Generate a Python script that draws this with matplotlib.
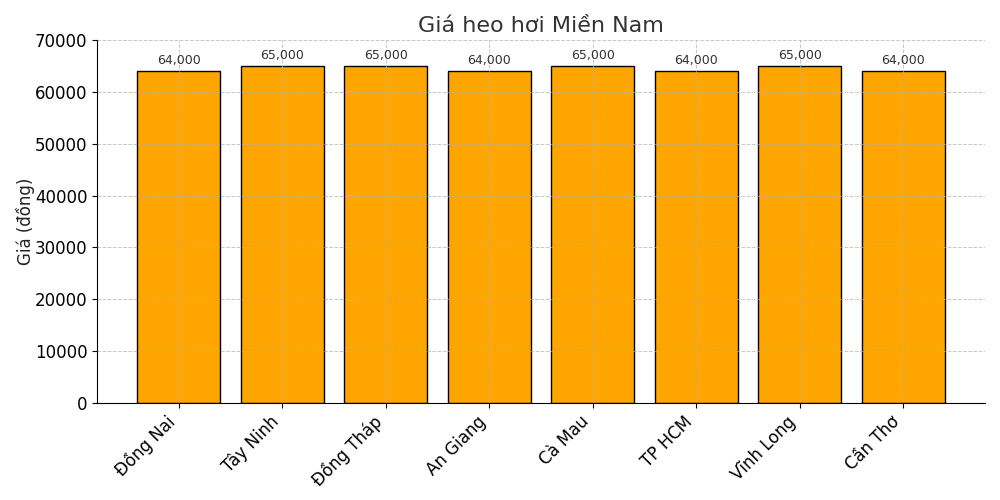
import matplotlib
matplotlib.use("Agg")
import matplotlib.pyplot as plt

provinces = ["Đồng Nai", "Tây Ninh", "Đồng Tháp", "An Giang",
             "Cà Mau", "TP HCM", "Vĩnh Long", "Cần Thơ"]
prices = [64000, 65000, 65000, 64000, 65000, 64000, 65000, 64000]

fig, ax = plt.subplots(figsize=(10, 5), dpi=100)
bars = ax.bar(provinces, prices, color="orange", edgecolor="black", width=0.8)

for b, p in zip(bars, prices):
    ax.annotate(f"{p:,}", (b.get_x() + b.get_width() / 2, p),
                xytext=(0, 3), textcoords="offset points",
                ha="center", va="bottom", fontsize=9, color="#333333")

ax.set_title("Giá heo hơi Miền Nam", fontsize=16, color="#333333")
ax.set_ylabel("Giá (đồng)", fontsize=12, color="#222222", labelpad=0)
ax.set_ylim(0, 70000)
ax.tick_params(axis="both", labelsize=12)
plt.xticks(rotation=45, ha="right")
ax.grid(True, linestyle="--", linewidth=0.7, alpha=0.7)
ax.spines["top"].set_visible(False)
ax.spines["right"].set_visible(False)

fig.subplots_adjust(left=0.097, right=0.985, top=0.92, bottom=0.194)
plt.savefig("out.png")
